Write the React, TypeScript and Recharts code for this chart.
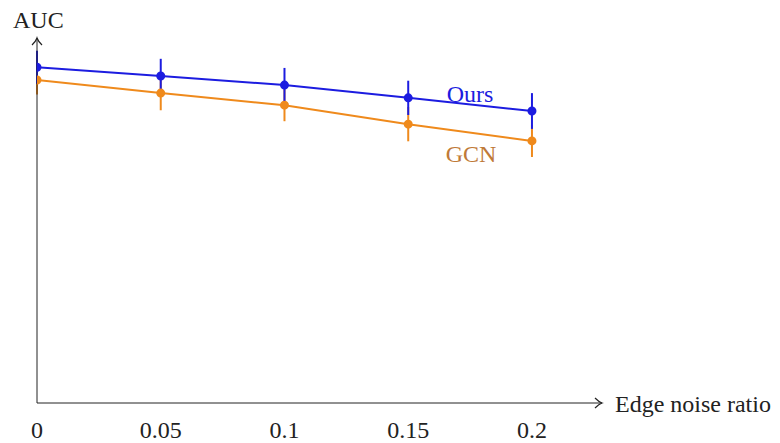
import { LineChart, Line, XAxis, YAxis, ErrorBar, ReferenceDot } from "recharts"

const ratios = [0, 0.05, 0.1, 0.15, 0.2]
const oursAuc = [0.92, 0.896, 0.871, 0.836, 0.8]
const oursErr = [0.045, 0.047, 0.047, 0.047, 0.049]
const gcnAuc = [0.885, 0.849, 0.816, 0.764, 0.718]
const gcnErr = [0.04, 0.047, 0.044, 0.047, 0.044]

const data = ratios.map((r, i) => ({
  ratio: r,
  ours: oursAuc[i],
  oursErr: oursErr[i],
  gcn: gcnAuc[i],
  gcnErr: gcnErr[i],
}))

const BLUE = "#1c1ce0"
const ORANGE = "#ef8a1c"
const FONT = "'Liberation Serif', 'DejaVu Serif', serif"
const X_MAX = 0.2283

const ArrowRight = (props: any) => (
  <path
    d={`M${props.cx - 7},${props.cy - 5} Q${props.cx - 3},${props.cy - 1} ${props.cx},${props.cy} Q${props.cx - 3},${props.cy + 1} ${props.cx - 7},${props.cy + 5}`}
    fill="none"
    stroke="#222"
    strokeWidth={1.2}
  />
)

const ArrowUp = (props: any) => (
  <path
    d={`M${props.cx - 5},${props.cy + 7} Q${props.cx - 1},${props.cy + 3} ${props.cx},${props.cy} Q${props.cx + 1},${props.cy + 3} ${props.cx + 5},${props.cy + 7}`}
    fill="none"
    stroke="#222"
    strokeWidth={1.2}
  />
)

export default function App() {
  return (
    <div style={{ position: "absolute", left: 0, top: 0, width: 780, height: 443, background: "#fff" }}>
      <div style={{ position: "absolute", left: 13, top: 7, fontFamily: FONT, fontSize: 24, color: "#222", lineHeight: "normal" }}>AUC</div>
      <LineChart width={780} height={443} data={data} margin={{ top: 38, right: 178, left: 0, bottom: 0 }}>
        <XAxis
          dataKey="ratio"
          type="number"
          domain={[0, X_MAX]}
          ticks={ratios}
          tickLine={false}
          tickSize={6}
          tickMargin={12}
          height={40}
          stroke="#222"
          tick={{ fill: "#222", fontSize: 24, fontFamily: FONT }}
          allowDataOverflow
        />
        <YAxis width={37} domain={[0, 1]} tick={false} tickLine={false} stroke="#222" allowDataOverflow />
        <Line
          dataKey="gcn"
          stroke={ORANGE}
          strokeWidth={2}
          dot={{ r: 3.5, fill: ORANGE, stroke: ORANGE }}
          isAnimationActive={false}
        >
          <ErrorBar dataKey="gcnErr" width={0} stroke={ORANGE} strokeWidth={2} direction="y" isAnimationActive={false} />
        </Line>
        <Line
          dataKey="ours"
          stroke={BLUE}
          strokeWidth={2}
          dot={{ r: 3.5, fill: BLUE, stroke: BLUE }}
          isAnimationActive={false}
        >
          <ErrorBar dataKey="oursErr" width={0} stroke={BLUE} strokeWidth={2} direction="y" isAnimationActive={false} />
        </Line>
        <ReferenceDot x={X_MAX} y={0} r={0} shape={ArrowRight} ifOverflow="visible"
          label={{ value: "Edge noise ratio", position: "right", offset: 13, fill: "#222", fontSize: 24, fontFamily: FONT }} />
        <ReferenceDot x={0} y={1} r={0} shape={ArrowUp} ifOverflow="visible" />
        <ReferenceDot x={0.175} y={0.848} r={0} ifOverflow="visible"
          label={{ value: "Ours", position: "center", fill: BLUE, fontSize: 24, fontFamily: FONT }} />
        <ReferenceDot x={0.1754} y={0.684} r={0} ifOverflow="visible"
          label={{ value: "GCN", position: "center", fill: "#c07a38", fontSize: 24, fontFamily: FONT }} />
      </LineChart>
    </div>
  )
}
